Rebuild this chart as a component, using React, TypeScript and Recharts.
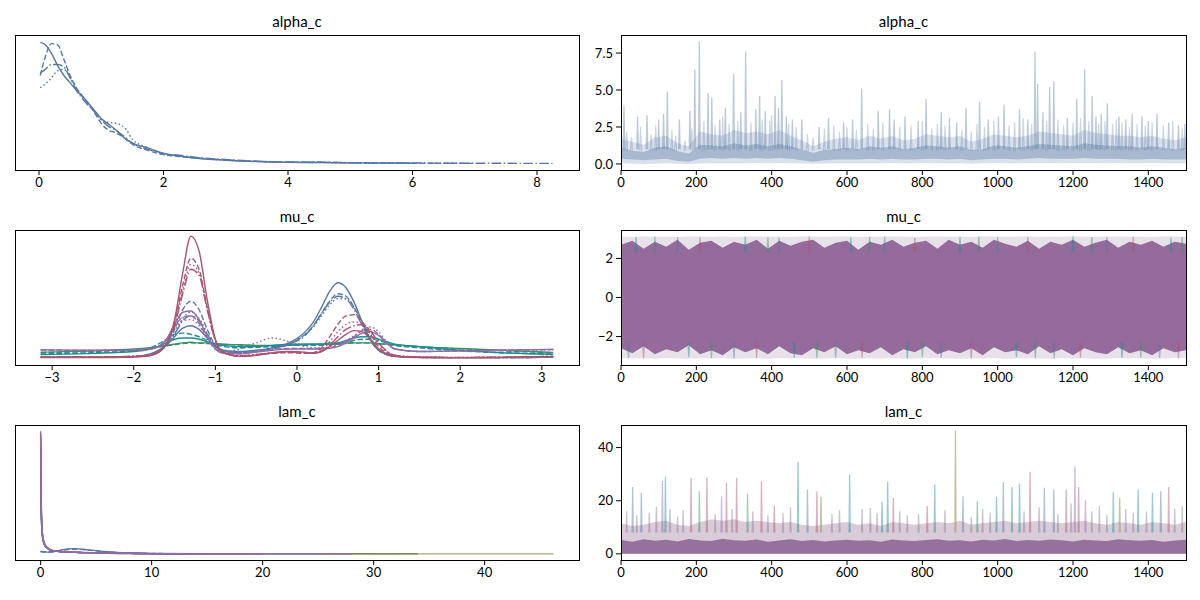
import { ComposedChart, Line, Area, XAxis, YAxis } from 'recharts'

// ---------- palette ----------
const BLUE = '#5778a4'
const ROSE = '#ac5470'
const PURPLE = '#946aa8'
const TEAL = '#1a8f95'
const GREEN = '#3f8f63'
const OLIVE = '#6f7d4c'
const KHAKI = '#a9a67f'
const BAND = '#946b9b'

// ---------- alpha_c density ----------
const alphaGrid = [0.02, 0.1, 0.2, 0.3, 0.4, 0.5, 0.6, 0.75, 0.9, 1.0, 1.1, 1.25, 1.4, 1.5, 1.75, 2.0, 2.25, 2.5, 3.0, 3.5, 4.0, 4.5, 5.0, 6.0, 7.0, 8.25]
const alphaSolid = [0.99, 0.97, 0.9, 0.8, 0.72, 0.66, 0.6, 0.52, 0.43, 0.37, 0.33, 0.27, 0.2, 0.17, 0.13, 0.086, 0.064, 0.048, 0.03, 0.018, 0.012, 0.011, 0.008, 0.005, null, null]
const alphaDashed = [0.72, 0.87, 0.98, 0.97, 0.85, 0.72, 0.62, 0.52, 0.41, 0.33, 0.28, 0.25, 0.2, 0.16, 0.11, 0.075, 0.06, 0.048, 0.032, 0.02, 0.014, 0.013, 0.009, 0.006, 0.004, null]
const alphaDotted = [0.62, 0.65, 0.7, 0.76, 0.77, 0.7, 0.62, 0.51, 0.42, 0.36, 0.34, 0.33, 0.28, 0.2, 0.13, 0.085, 0.065, 0.05, 0.03, 0.02, 0.013, 0.011, 0.008, 0.005, null, null]
const alphaDashDot = [0.74, 0.77, 0.81, 0.81, 0.79, 0.7, 0.6, 0.5, 0.42, 0.36, 0.31, 0.27, 0.21, 0.17, 0.12, 0.085, 0.07, 0.055, 0.035, 0.022, 0.015, 0.014, 0.01, 0.007, 0.005, 0.004]
const alphaKdeTicks = [0, 2, 4, 6, 8]

// ---------- mu_c density ----------
const muGrid = [-3.14, -2.5, -2.0, -1.8, -1.7, -1.6, -1.5, -1.4, -1.3, -1.2, -1.1, -1.0, -0.9, -0.7, -0.5, -0.3, -0.1, 0.1, 0.2, 0.3, 0.4, 0.5, 0.6, 0.7, 0.8, 0.9, 1.0, 1.1, 1.2, 1.5, 2.0, 2.5, 3.14]
const roseSolid = [0.01, 0.01, 0.015, 0.025, 0.05, 0.12, 0.32, 0.7, 1.0, 0.88, 0.48, 0.16, 0.05, 0.02, 0.03, 0.05, 0.06, 0.055, 0.045, 0.06, 0.1, 0.15, 0.2, 0.23, 0.22, 0.16, 0.08, 0.04, 0.02, 0.01, 0.01, 0.012, 0.02]
const roseDashed = [0.012, 0.012, 0.018, 0.03, 0.055, 0.12, 0.3, 0.6, 0.82, 0.73, 0.42, 0.15, 0.05, 0.02, 0.03, 0.045, 0.05, 0.045, 0.05, 0.09, 0.18, 0.28, 0.35, 0.36, 0.3, 0.2, 0.1, 0.05, 0.025, 0.012, 0.01, 0.012, 0.018]
const roseDotted = [0.015, 0.015, 0.02, 0.03, 0.06, 0.12, 0.28, 0.56, 0.77, 0.7, 0.41, 0.15, 0.05, 0.025, 0.035, 0.05, 0.055, 0.05, 0.05, 0.07, 0.14, 0.22, 0.28, 0.3, 0.29, 0.22, 0.12, 0.06, 0.03, 0.015, 0.012, 0.014, 0.02]
const roseDashDot = [0.014, 0.014, 0.02, 0.032, 0.06, 0.12, 0.27, 0.53, 0.73, 0.68, 0.4, 0.15, 0.05, 0.025, 0.035, 0.05, 0.055, 0.05, 0.048, 0.06, 0.11, 0.18, 0.24, 0.27, 0.28, 0.23, 0.13, 0.065, 0.03, 0.015, 0.012, 0.014, 0.02]
const blueSolid = [0.015, 0.015, 0.02, 0.04, 0.07, 0.11, 0.18, 0.25, 0.27, 0.24, 0.17, 0.1, 0.07, 0.06, 0.07, 0.09, 0.13, 0.22, 0.3, 0.42, 0.55, 0.62, 0.58, 0.46, 0.3, 0.16, 0.07, 0.035, 0.02, 0.012, 0.01, 0.01, 0.015]
const blueDashed = [0.012, 0.012, 0.018, 0.035, 0.06, 0.12, 0.24, 0.4, 0.47, 0.4, 0.24, 0.11, 0.06, 0.05, 0.06, 0.08, 0.12, 0.2, 0.27, 0.37, 0.47, 0.53, 0.51, 0.42, 0.28, 0.15, 0.07, 0.035, 0.02, 0.012, 0.01, 0.01, 0.013]
const blueDotted = [0.013, 0.013, 0.02, 0.035, 0.06, 0.11, 0.21, 0.33, 0.38, 0.33, 0.21, 0.1, 0.06, 0.05, 0.06, 0.09, 0.13, 0.2, 0.26, 0.35, 0.44, 0.49, 0.49, 0.42, 0.3, 0.17, 0.08, 0.04, 0.022, 0.013, 0.01, 0.01, 0.014]
const blueDashDot = [0.014, 0.014, 0.02, 0.036, 0.06, 0.11, 0.2, 0.31, 0.35, 0.31, 0.2, 0.1, 0.06, 0.05, 0.06, 0.085, 0.12, 0.19, 0.27, 0.37, 0.46, 0.51, 0.49, 0.4, 0.27, 0.15, 0.07, 0.035, 0.02, 0.012, 0.01, 0.01, 0.014]
const purpleSolid = [0.075, 0.07, 0.07, 0.08, 0.1, 0.16, 0.28, 0.38, 0.39, 0.32, 0.18, 0.08, 0.045, 0.04, 0.055, 0.07, 0.08, 0.08, 0.08, 0.08, 0.085, 0.1, 0.13, 0.17, 0.21, 0.22, 0.19, 0.13, 0.08, 0.06, 0.065, 0.07, 0.078]
const purpleDashed = [0.072, 0.068, 0.07, 0.08, 0.1, 0.15, 0.26, 0.34, 0.35, 0.29, 0.17, 0.08, 0.05, 0.045, 0.06, 0.075, 0.085, 0.085, 0.085, 0.085, 0.09, 0.11, 0.14, 0.18, 0.23, 0.24, 0.2, 0.13, 0.08, 0.06, 0.065, 0.07, 0.075]
const purpleDotted = [0.07, 0.068, 0.07, 0.08, 0.1, 0.15, 0.24, 0.31, 0.32, 0.27, 0.16, 0.08, 0.06, 0.08, 0.13, 0.17, 0.14, 0.1, 0.09, 0.09, 0.1, 0.12, 0.15, 0.19, 0.24, 0.26, 0.22, 0.14, 0.08, 0.06, 0.065, 0.07, 0.075]
const tealSolid = [0.035, 0.045, 0.06, 0.08, 0.1, 0.13, 0.16, 0.17, 0.17, 0.16, 0.14, 0.12, 0.11, 0.1, 0.1, 0.11, 0.12, 0.12, 0.12, 0.12, 0.13, 0.13, 0.15, 0.17, 0.18, 0.18, 0.16, 0.14, 0.12, 0.1, 0.07, 0.05, 0.037]
const tealDashed = [0.04, 0.05, 0.065, 0.09, 0.12, 0.16, 0.2, 0.21, 0.2, 0.18, 0.15, 0.12, 0.1, 0.09, 0.095, 0.1, 0.11, 0.11, 0.11, 0.11, 0.12, 0.12, 0.13, 0.15, 0.16, 0.16, 0.15, 0.13, 0.11, 0.09, 0.065, 0.05, 0.04]
const greenSolid = [0.055, 0.065, 0.08, 0.09, 0.1, 0.11, 0.12, 0.13, 0.135, 0.13, 0.13, 0.125, 0.12, 0.115, 0.11, 0.11, 0.115, 0.12, 0.12, 0.12, 0.12, 0.125, 0.13, 0.13, 0.13, 0.13, 0.125, 0.12, 0.115, 0.1, 0.085, 0.07, 0.052]
const greenDashed = [0.05, 0.06, 0.075, 0.085, 0.095, 0.105, 0.115, 0.125, 0.13, 0.128, 0.125, 0.12, 0.118, 0.112, 0.108, 0.108, 0.11, 0.115, 0.118, 0.12, 0.12, 0.122, 0.125, 0.128, 0.13, 0.128, 0.122, 0.118, 0.11, 0.098, 0.082, 0.066, 0.05]
const muKdeTicks = [-3, -2, -1, 0, 1, 2, 3]

// ---------- lam_c density ----------
const lamGrid = [0, 0.02, 0.05, 0.1, 0.2, 0.4, 0.7, 1.0, 1.5, 2, 2.5, 3, 3.5, 4, 5, 6, 8, 10, 15, 20, 28, 34, 46.2]
const lamKhaki = [0.85, 0.66, 0.38, 0.21, 0.115, 0.062, 0.038, 0.026, 0.02, 0.016, 0.014, 0.012, 0.011, 0.01, 0.008, 0.005, 0.003, 0.002, 0.001, 0.0006, 0.0004, 0.0003, 0.0002]
const lamGreen = [0.88, 0.68, 0.39, 0.22, 0.12, 0.064, 0.04, 0.027, 0.02, 0.017, 0.015, 0.013, 0.011, 0.01, 0.008, 0.006, 0.004, 0.002, 0.001, 0.0006, 0.0003, 0.0002, null]
const lamTeal = [0.9, 0.7, 0.4, 0.22, 0.12, 0.065, 0.04, 0.027, 0.02, 0.017, 0.015, 0.013, 0.011, 0.01, 0.008, 0.006, 0.004, 0.002, 0.001, 0.0006, null, null, null]
const lamBluePeak = [0.98, 0.7, 0.4, 0.23, 0.13, 0.07, 0.042, 0.028, 0.021, 0.017, 0.015, 0.013, 0.011, 0.01, 0.008, 0.005, 0.003, 0.002, 0.001, null, null, null, null]
const lamBlueBump = [0.02, 0.018, 0.017, 0.016, 0.015, 0.014, 0.014, 0.015, 0.024, 0.034, 0.041, 0.043, 0.041, 0.036, 0.026, 0.017, 0.007, 0.003, 0.001, null, null, null, null]
const lamBlueBump2 = [0.024, 0.022, 0.02, 0.019, 0.018, 0.017, 0.016, 0.017, 0.022, 0.03, 0.036, 0.038, 0.037, 0.033, 0.024, 0.016, 0.007, 0.003, 0.001, null, null, null, null]
const lamRose = [0.97, 0.78, 0.45, 0.25, 0.13, 0.07, 0.043, 0.029, 0.021, 0.017, 0.015, 0.013, 0.011, 0.01, 0.008, 0.006, 0.004, 0.002, 0.001, 0.0005, null, null, null]
const lamPurple = [1.0, 0.8, 0.46, 0.26, 0.14, 0.075, 0.045, 0.03, 0.022, 0.018, 0.016, 0.014, 0.012, 0.011, 0.008, 0.006, 0.004, 0.002, 0.001, 0.0006, 0.0003, null, null]
const lamPurple2 = [0.95, 0.76, 0.44, 0.25, 0.135, 0.072, 0.044, 0.03, 0.022, 0.018, 0.015, 0.013, 0.012, 0.01, 0.008, 0.006, 0.004, 0.002, 0.001, 0.0005, null, null, null]
const lamKdeTicks = [0, 10, 20, 30, 40]

// ---------- traces ----------
const traceTicks = [0, 200, 400, 600, 800, 1000, 1200, 1400]
const bandDraws = [0, 30, 60, 90, 120, 150, 180, 210, 240, 270, 300, 330, 360, 390, 420, 450, 480, 510, 540, 570, 600, 630, 660, 690, 720, 750, 780, 810, 840, 870, 900, 930, 960, 990, 1020, 1050, 1080, 1110, 1140, 1170, 1200, 1230, 1260, 1290, 1320, 1350, 1380, 1410, 1440, 1470, 1500]

const alphaOuterLo = [0.05, 0.02, 0.0, 0.02, 0.05, 0.01, 0.0, 0.03, 0.05, 0.04, 0.05, 0.04, 0.06, 0.05, 0.06, 0.05, 0.03, 0.01, 0.03, 0.04, 0.05, 0.04, 0.05, 0.04, 0.06, 0.05, 0.04, 0.06, 0.05, 0.04, 0.05, 0.02, 0.04, 0.06, 0.05, 0.05, 0.06, 0.07, 0.06, 0.05, 0.06, 0.07, 0.06, 0.05, 0.06, 0.05, 0.05, 0.06, 0.05, 0.04, 0.05]
const alphaOuterHi = [1.7, 1.5, 1.3, 1.8, 1.9, 1.4, 1.2, 2.2, 2.0, 1.9, 2.3, 2.1, 2.2, 2.0, 2.3, 1.9, 1.6, 1.2, 1.5, 1.7, 1.8, 1.6, 1.9, 1.7, 1.9, 1.6, 1.7, 2.0, 1.9, 1.8, 1.9, 1.5, 1.7, 2.0, 1.9, 1.8, 1.9, 2.2, 2.1, 2.0, 1.9, 2.3, 2.1, 2.0, 1.9, 1.9, 1.8, 1.9, 1.7, 1.6, 1.8]
const alphaCoreLo = [0.35, 0.3, 0.25, 0.3, 0.35, 0.2, 0.15, 0.35, 0.4, 0.35, 0.4, 0.35, 0.4, 0.35, 0.4, 0.35, 0.25, 0.15, 0.25, 0.3, 0.3, 0.3, 0.35, 0.3, 0.35, 0.3, 0.3, 0.35, 0.35, 0.3, 0.35, 0.25, 0.3, 0.35, 0.35, 0.3, 0.35, 0.4, 0.35, 0.35, 0.35, 0.4, 0.35, 0.35, 0.35, 0.3, 0.3, 0.35, 0.3, 0.3, 0.3]
const alphaCoreHi = [1.1, 0.9, 0.8, 1.1, 1.2, 0.85, 0.7, 1.3, 1.25, 1.2, 1.4, 1.25, 1.35, 1.2, 1.35, 1.2, 1.0, 0.75, 0.95, 1.0, 1.1, 1.0, 1.2, 1.1, 1.2, 1.0, 1.1, 1.25, 1.2, 1.1, 1.2, 0.95, 1.0, 1.25, 1.2, 1.1, 1.2, 1.35, 1.3, 1.25, 1.2, 1.4, 1.3, 1.25, 1.2, 1.2, 1.1, 1.2, 1.1, 1.0, 1.1]
const alphaSpikes = [[8, 3.9], [44, 3.2], [69, 3.3], [100, 3.0], [113, 3.4], [123, 4.9], [155, 3.0], [183, 3.6], [196, 6.4], [208, 8.3], [231, 4.8], [241, 4.5], [262, 3.0], [277, 3.8], [299, 6.1], [318, 3.5], [331, 7.6], [358, 3.7], [368, 4.6], [383, 3.6], [409, 4.6], [418, 3.8], [427, 5.7], [439, 3.2], [455, 3.0], [480, 3.0], [526, 2.5], [551, 3.1], [591, 2.8], [615, 3.0], [639, 5.1], [683, 3.6], [713, 3.7], [725, 3.0], [754, 3.2], [789, 2.9], [810, 4.4], [850, 3.5], [872, 3.1], [891, 2.8], [916, 3.8], [952, 4.2], [975, 3.0], [1002, 3.2], [1017, 4.0], [1058, 3.7], [1080, 3.0], [1099, 7.6], [1106, 5.4], [1120, 3.5], [1138, 5.2], [1149, 5.6], [1185, 3.1], [1210, 4.4], [1231, 6.4], [1251, 4.6], [1261, 3.2], [1275, 3.4], [1291, 4.1], [1322, 3.2], [1340, 3.0], [1357, 3.4], [1383, 3.2], [1400, 2.9], [1423, 3.4], [1454, 2.8], [1480, 2.6], [1497, 2.7]]
const alphaSpikesSmall = [[15, 2.2], [28, 1.8], [52, 2.5], [80, 2.0], [92, 2.6], [135, 2.3], [145, 1.9], [170, 1.6], [188, 2.4], [220, 2.9], [250, 2.6], [270, 3.2], [287, 2.7], [310, 2.9], [345, 2.8], [375, 3.0], [395, 2.9], [400, 3.3], [445, 2.7], [465, 2.5], [495, 2.0], [510, 1.8], [540, 2.4], [565, 2.6], [580, 2.2], [600, 2.5], [625, 2.3], [655, 2.7], [670, 2.4], [695, 2.8], [740, 2.5], [770, 2.6], [800, 2.9], [825, 2.4], [840, 2.7], [860, 2.6], [905, 2.3], [930, 2.2], [945, 2.7], [965, 2.5], [990, 2.9], [1030, 2.6], [1045, 2.8], [1068, 3.1], [1090, 2.7], [1130, 2.9], [1160, 3.0], [1175, 2.6], [1200, 2.8], [1220, 3.1], [1242, 2.9], [1268, 2.7], [1285, 2.9], [1305, 2.7], [1315, 3.0], [1330, 2.8], [1350, 2.5], [1370, 2.7], [1392, 2.6], [1410, 2.8], [1440, 2.6], [1465, 2.9], [1490, 2.4]]
const alphaTraceTicks = [0, 2.5, 5, 7.5]

const muOuterLo = [-3.1, -3.12, -3.11, -3.13, -3.1, -3.12, -3.13, -3.11, -3.12, -3.1, -3.13, -3.12, -3.11, -3.13, -3.1, -3.12, -3.11, -3.13, -3.12, -3.1, -3.12, -3.13, -3.11, -3.12, -3.1, -3.13, -3.12, -3.11, -3.1, -3.12, -3.13, -3.11, -3.12, -3.1, -3.13, -3.12, -3.11, -3.12, -3.13, -3.1, -3.12, -3.11, -3.13, -3.12, -3.1, -3.12, -3.11, -3.13, -3.12, -3.1, -3.12]
const muOuterHi = [3.12, 3.1, 3.13, 3.11, 3.12, 3.1, 3.13, 3.12, 3.11, 3.13, 3.1, 3.12, 3.13, 3.11, 3.12, 3.1, 3.13, 3.12, 3.11, 3.12, 3.13, 3.1, 3.12, 3.11, 3.13, 3.12, 3.1, 3.12, 3.13, 3.11, 3.12, 3.1, 3.13, 3.12, 3.11, 3.12, 3.13, 3.1, 3.12, 3.11, 3.13, 3.12, 3.1, 3.12, 3.13, 3.11, 3.12, 3.1, 3.13, 3.12, 3.11]
const muCoreLo = [-2.6, -2.85, -2.5, -2.9, -2.65, -2.8, -2.45, -2.9, -2.7, -2.95, -2.55, -2.8, -2.6, -2.9, -2.5, -2.85, -2.95, -2.6, -2.8, -2.5, -2.9, -2.7, -2.85, -2.55, -2.95, -2.65, -2.8, -2.5, -2.9, -2.7, -2.85, -2.6, -2.95, -2.55, -2.8, -2.7, -2.9, -2.5, -2.85, -2.65, -2.95, -2.6, -2.8, -2.9, -2.55, -2.85, -2.7, -2.95, -2.6, -2.8, -2.7]
const muCoreHi = [2.7, 2.9, 2.5, 2.85, 2.6, 2.95, 2.45, 2.8, 2.9, 2.55, 2.85, 2.7, 2.95, 2.5, 2.9, 2.65, 2.85, 2.95, 2.55, 2.8, 2.9, 2.45, 2.85, 2.7, 2.95, 2.6, 2.8, 2.9, 2.5, 2.95, 2.7, 2.85, 2.55, 2.95, 2.75, 2.6, 2.9, 2.5, 2.85, 2.7, 2.95, 2.6, 2.8, 2.95, 2.55, 2.85, 2.7, 2.9, 2.6, 2.85, 2.75]
const muSpikesTeal = [[40, 3.1], [180, -3.05], [330, 3.12], [460, -3.1], [610, 3.08], [760, -3.12], [900, 3.1], [1050, -3.05], [1200, 3.12], [1330, -3.1], [1460, 3.05]]
const muSpikesBlue = [[20, -3.1], [150, 3.1], [300, -3.12], [420, 3.05], [570, -3.08], [700, 3.12], [850, -3.1], [1000, 3.1], [1150, -3.12], [1290, 3.08], [1430, -3.1]]
const muSpikesGreen = [[90, 3.12], [240, -3.1], [390, 3.08], [520, -3.1], [660, 3.1], [800, -3.05], [950, 3.12], [1100, -3.1], [1250, 3.1], [1380, -3.08], [1490, 3.1]]
const muSpikesRose = [[60, -3.12], [210, 3.08], [360, -3.1], [500, 3.12], [640, -3.1], [780, 3.05], [930, -3.12], [1080, 3.1], [1220, -3.08], [1360, 3.12], [1480, -3.1]]
const muTraceTicks = [-2, 0, 2]

const lamCoreHi = [5.2, 4.6, 5.5, 4.9, 5.3, 4.7, 5.6, 5.0, 4.8, 5.7, 5.1, 4.9, 5.4, 4.6, 5.0, 5.5, 4.8, 5.2, 4.7, 5.0, 5.3, 4.9, 5.1, 4.6, 5.4, 5.0, 4.8, 5.2, 5.5, 4.9, 5.1, 4.7, 5.3, 5.0, 5.6, 4.8, 5.2, 4.9, 5.4, 5.1, 4.7, 5.3, 5.0, 4.8, 5.5, 5.1, 4.9, 5.2, 4.6, 5.0, 5.3]
const lamMidHi = [11.5, 10.5, 11, 12, 12.5, 11, 10.5, 12, 13, 12.5, 13, 12, 12.5, 12, 11.5, 12, 11, 10.5, 11, 11.5, 12, 11, 11.5, 10.5, 12, 11.5, 11, 11.5, 12, 11.5, 12.5, 11, 11.5, 12, 12.5, 11.5, 12, 12.5, 12, 11.5, 12, 12.5, 11.5, 11, 12, 11.5, 11, 12, 11.5, 11, 12]
const lamSpikesMixed = [[15, 16], [42, 14.5], [75, 15.5], [130, 17], [150, 14], [165, 16.5], [250, 15], [295, 17], [350, 16], [390, 14.5], [430, 15.5], [450, 17.5], [560, 15], [580, 16.5], [640, 17], [680, 15.5], [740, 16], [760, 14.5], [790, 15], [860, 16.5], [930, 14], [960, 17], [980, 15.5], [1070, 16], [1110, 17.5], [1160, 15], [1195, 19], [1250, 16], [1270, 18], [1290, 14.5], [1340, 17], [1360, 15.5], [1395, 16], [1470, 17], [1490, 18]]
const lamSpikesTeal = [[118, 29], [470, 34.6], [607, 29.9], [693, 19.6], [708, 27.1], [833, 26.1], [997, 21.5], [1058, 26.5], [1307, 23.2], [1373, 24.2], [1411, 23]]
const lamSpikesRose = [[186, 28.6], [228, 28.6], [280, 26.7], [307, 28.6], [373, 27.3], [407, 18.2], [520, 23.6], [723, 21], [813, 18], [1086, 30.8], [1182, 24.2], [1215, 25.2], [1454, 25.2]]
const lamSpikesBlue = [[31, 25.2], [54, 23], [495, 24.2], [908, 21.7], [1015, 27], [1124, 24.9], [1149, 24.2], [1433, 23.6]]
const lamSpikesPurple = [[94, 17.7], [110, 27.4], [267, 21.7], [662, 17.3], [1205, 33], [1233, 20.2]]
const lamSpikesGreen = [[208, 23.6], [336, 22.6], [946, 19.8], [1038, 25.2]]
const lamSpikesKhaki = [[531, 21.5], [888, 46.3], [1324, 21]]
const lamTraceTicks = [0, 20, 40]

// ---------- layout ----------
const LEFT_X = 15
const RIGHT_X = 621
const LEFT_W = 564
const RIGHT_W = 565
const PLOT_H = 135
const ROWS = [35, 230, 425]
const Y_AXIS_W = 40
const X_AXIS_H = 25
const FONT = "Lato, 'Noto Sans', sans-serif"

const DASH: Record<string, string | undefined> = {
  solid: undefined,
  dashed: '5.5 2.4',
  dotted: '1.5 2.5',
  dashdot: '9.6 2.4 1.5 2.4',
}

const fmtMinus = (v: number) => (v < 0 ? `\u2212${Math.abs(v)}` : `${v}`)

function kdeRows(grid: number[], series: Record<string, (number | null)[]>) {
  return grid.map((x, i) => {
    const row: Record<string, number | null> = { x }
    for (const k of Object.keys(series)) row[k] = series[k][i]
    return row
  })
}

function bandRows(lo: number[], hi: number[], lo2: number[], hi2: number[]) {
  return bandDraws.map((d, i) => ({
    draw: d,
    outer: [lo[i], hi[i]],
    core: [lo2[i], hi2[i]],
  }))
}

// each spike becomes a thin up-and-back excursion from the band, separated by gaps
function spikeRows(spikes: number[][], baseUp: number, baseDown: number, half: number) {
  const rows: { draw: number; y: number | null }[] = []
  for (const [d, v] of spikes) {
    const base = v >= 0 ? baseUp : baseDown
    rows.push({ draw: d - half, y: base }, { draw: d, y: v }, { draw: d + half, y: base }, { draw: d + half + 0.1, y: null })
  }
  return rows
}

const tickStyle = { fill: '#000', fontSize: 13, fontFamily: FONT }

function Frame({ x, y, w }: { x: number; y: number; w: number }) {
  return (
    <div
      style={{
        position: 'absolute',
        left: x - 0.5,
        top: y - 0.5,
        width: w + 1,
        height: PLOT_H + 1,
        border: '1px solid #000',
        boxSizing: 'border-box',
        pointerEvents: 'none',
      }}
    />
  )
}

function Title({ text, x, y, w }: { text: string; x: number; y: number; w: number }) {
  return (
    <div
      style={{
        position: 'absolute',
        left: x,
        top: y - 22,
        width: w,
        textAlign: 'center',
        fontSize: 15,
        lineHeight: '16px',
        color: '#000',
      }}
    >
      {text}
    </div>
  )
}

type KdeLine = { key: string; color: string; dash: string }

function KdePanel(props: {
  title: string
  top: number
  data: Record<string, number | null>[]
  lines: KdeLine[]
  domain: [number, number]
  ticks: number[]
}) {
  const { title, top, data, lines, domain, ticks } = props
  return (
    <>
      <Title text={title} x={LEFT_X} y={top} w={LEFT_W} />
      <div style={{ position: 'absolute', left: LEFT_X, top }}>
        <ComposedChart width={LEFT_W} height={PLOT_H + X_AXIS_H} data={data} margin={{ top: 0, right: 0, left: 0, bottom: 0 }}>
          <XAxis
            dataKey="x"
            type="number"
            domain={domain}
            ticks={ticks}
            allowDataOverflow
            axisLine={false}
            tickLine={{ stroke: '#000' }}
            tickSize={5}
            tickMargin={3}
            height={X_AXIS_H}
            tick={tickStyle}
            tickFormatter={fmtMinus}
          />
          <YAxis hide domain={[-0.05, 1.05]} allowDataOverflow />
          {lines.map((l) => (
            <Line
              key={l.key}
              dataKey={l.key}
              type="monotone"
              stroke={l.color}
              strokeWidth={1.4}
              strokeDasharray={DASH[l.dash]}
              dot={false}
              connectNulls={false}
              isAnimationActive={false}
            />
          ))}
        </ComposedChart>
      </div>
      <Frame x={LEFT_X} y={top} w={LEFT_W} />
    </>
  )
}

function TracePanel(props: {
  title: string
  top: number
  yDomain: [number, number]
  yTicks: number[]
  yFormat: (v: number) => string
  children: React.ReactNode
}) {
  const { title, top, yDomain, yTicks, yFormat, children } = props
  return (
    <>
      <Title text={title} x={RIGHT_X} y={top} w={RIGHT_W} />
      <div style={{ position: 'absolute', left: RIGHT_X - Y_AXIS_W, top }}>
        <ComposedChart width={RIGHT_W + Y_AXIS_W} height={PLOT_H + X_AXIS_H} margin={{ top: 0, right: 0, left: 0, bottom: 0 }}>
          <XAxis
            dataKey="draw"
            type="number"
            domain={[0, 1500]}
            ticks={traceTicks}
            allowDataOverflow
            axisLine={false}
            tickLine={{ stroke: '#000' }}
            tickSize={5}
            tickMargin={3}
            height={X_AXIS_H}
            tick={tickStyle}
          />
          <YAxis
            type="number"
            domain={yDomain}
            ticks={yTicks}
            allowDataOverflow
            axisLine={false}
            tickLine={{ stroke: '#000' }}
            tickSize={5}
            tickMargin={3}
            width={Y_AXIS_W}
            tick={tickStyle}
            tickFormatter={yFormat}
          />
          {children}
        </ComposedChart>
      </div>
      <Frame x={RIGHT_X} y={top} w={RIGHT_W} />
    </>
  )
}

function spikeLine(key: string, rows: { draw: number; y: number | null }[], color: string, opacity: number, width = 1.3) {
  return (
    <Line
      key={key}
      data={rows}
      dataKey="y"
      type="linear"
      stroke={color}
      strokeOpacity={opacity}
      strokeWidth={width}
      dot={false}
      connectNulls={false}
      isAnimationActive={false}
    />
  )
}

export default function App() {
  const alphaData = kdeRows(alphaGrid, { s: alphaSolid, d: alphaDashed, o: alphaDotted, dd: alphaDashDot })
  const muData = kdeRows(muGrid, {
    gS: greenSolid, gD: greenDashed, tS: tealSolid, tD: tealDashed,
    bS: blueSolid, bD: blueDashed, bO: blueDotted, bDD: blueDashDot,
    pS: purpleSolid, pD: purpleDashed, pO: purpleDotted,
    rS: roseSolid, rD: roseDashed, rO: roseDotted, rDD: roseDashDot,
  })
  const lamData = kdeRows(lamGrid, {
    k: lamKhaki, g: lamGreen, t: lamTeal, bp: lamBluePeak, bb: lamBlueBump, bb2: lamBlueBump2,
    r: lamRose, p: lamPurple, p2: lamPurple2,
  })

  const alphaBands = bandRows(alphaOuterLo, alphaOuterHi, alphaCoreLo, alphaCoreHi)
  const muBands = bandRows(muOuterLo, muOuterHi, muCoreLo, muCoreHi)
  const lamBands = bandDraws.map((d, i) => ({ draw: d, mid: lamMidHi[i], core: lamCoreHi[i] }))

  return (
    <div
      style={{
        position: 'fixed',
        left: 0,
        top: 0,
        width: 1200,
        height: 600,
        background: '#fff',
        fontFamily: FONT,
        overflow: 'hidden',
      }}
    >
      {/* left column: densities */}
      <KdePanel
        title="alpha_c"
        top={ROWS[0]}
        data={alphaData}
        domain={[-0.386, 8.675]}
        ticks={alphaKdeTicks}
        lines={[
          { key: 's', color: BLUE, dash: 'solid' },
          { key: 'd', color: BLUE, dash: 'dashed' },
          { key: 'o', color: BLUE, dash: 'dotted' },
          { key: 'dd', color: BLUE, dash: 'dashdot' },
        ]}
      />
      <KdePanel
        title="mu_c"
        top={ROWS[1]}
        data={muData}
        domain={[-3.455, 3.455]}
        ticks={muKdeTicks}
        lines={[
          { key: 'gS', color: GREEN, dash: 'solid' },
          { key: 'gD', color: GREEN, dash: 'dashed' },
          { key: 'tS', color: TEAL, dash: 'solid' },
          { key: 'tD', color: TEAL, dash: 'dashed' },
          { key: 'bS', color: BLUE, dash: 'solid' },
          { key: 'bD', color: BLUE, dash: 'dashed' },
          { key: 'bO', color: BLUE, dash: 'dotted' },
          { key: 'bDD', color: BLUE, dash: 'dashdot' },
          { key: 'pS', color: PURPLE, dash: 'solid' },
          { key: 'pD', color: PURPLE, dash: 'dashed' },
          { key: 'pO', color: PURPLE, dash: 'dotted' },
          { key: 'rS', color: ROSE, dash: 'solid' },
          { key: 'rD', color: ROSE, dash: 'dashed' },
          { key: 'rO', color: ROSE, dash: 'dotted' },
          { key: 'rDD', color: ROSE, dash: 'dashdot' },
        ]}
      />
      <KdePanel
        title="lam_c"
        top={ROWS[2]}
        data={lamData}
        domain={[-2.31, 48.5]}
        ticks={lamKdeTicks}
        lines={[
          { key: 'k', color: KHAKI, dash: 'solid' },
          { key: 'g', color: OLIVE, dash: 'solid' },
          { key: 't', color: TEAL, dash: 'solid' },
          { key: 'bb', color: BLUE, dash: 'solid' },
          { key: 'bb2', color: BLUE, dash: 'dashed' },
          { key: 'bp', color: BLUE, dash: 'solid' },
          { key: 'r', color: ROSE, dash: 'solid' },
          { key: 'p2', color: PURPLE, dash: 'dashed' },
          { key: 'p', color: PURPLE, dash: 'solid' },
        ]}
      />

      {/* right column: traces */}
      <TracePanel title="alpha_c" top={ROWS[0]} yDomain={[-0.41, 8.72]} yTicks={alphaTraceTicks} yFormat={(v) => v.toFixed(1)}>
        <Area data={alphaBands} dataKey="outer" type="linear" stroke="none" fill={BLUE} fillOpacity={0.22} isAnimationActive={false} />
        <Area data={alphaBands} dataKey="core" type="linear" stroke="none" fill={BLUE} fillOpacity={0.38} isAnimationActive={false} />
        {spikeLine('aSs', spikeRows(alphaSpikesSmall, 0.9, 0.9, 2.5), BLUE, 0.3, 1.2)}
        {spikeLine('aS', spikeRows(alphaSpikes, 1.0, 1.0, 2), BLUE, 0.4)}
      </TracePanel>

      <TracePanel title="mu_c" top={ROWS[1]} yDomain={[-3.455, 3.455]} yTicks={muTraceTicks} yFormat={fmtMinus}>
        <Area data={muBands} dataKey="outer" type="linear" stroke="none" fill="#a08cac" fillOpacity={0.25} isAnimationActive={false} />
        <Area data={muBands} dataKey="core" type="linear" stroke="none" fill={BAND} fillOpacity={1} isAnimationActive={false} />
        {spikeLine('mT', spikeRows(muSpikesTeal, 2.3, -2.3, 2.5), TEAL, 0.45)}
        {spikeLine('mB', spikeRows(muSpikesBlue, 2.3, -2.3, 2.5), BLUE, 0.45)}
        {spikeLine('mG', spikeRows(muSpikesGreen, 2.3, -2.3, 2.5), GREEN, 0.45)}
        {spikeLine('mR', spikeRows(muSpikesRose, 2.3, -2.3, 2.5), ROSE, 0.45)}
      </TracePanel>

      <TracePanel title="lam_c" top={ROWS[2]} yDomain={[-2.31, 48.5]} yTicks={lamTraceTicks} yFormat={(v) => `${v}`}>
        <Area data={lamBands} dataKey="mid" type="linear" baseValue={0} stroke="none" fill="#a4849f" fillOpacity={0.42} isAnimationActive={false} />
        <Area data={lamBands} dataKey="core" type="linear" baseValue={0} stroke="none" fill={BAND} fillOpacity={0.95} isAnimationActive={false} />
        {spikeLine('lM', spikeRows(lamSpikesMixed, 8, 8, 1.5), '#8f7f96', 0.45)}
        {spikeLine('lT', spikeRows(lamSpikesTeal, 8, 8, 1.5), TEAL, 0.45)}
        {spikeLine('lR', spikeRows(lamSpikesRose, 8, 8, 1.5), ROSE, 0.45)}
        {spikeLine('lB', spikeRows(lamSpikesBlue, 8, 8, 1.5), BLUE, 0.45)}
        {spikeLine('lP', spikeRows(lamSpikesPurple, 8, 8, 1.5), PURPLE, 0.45)}
        {spikeLine('lG', spikeRows(lamSpikesGreen, 8, 8, 1.5), GREEN, 0.45)}
        {spikeLine('lK', spikeRows(lamSpikesKhaki, 8, 8, 1.5), KHAKI, 0.7)}
      </TracePanel>
    </div>
  )
}
